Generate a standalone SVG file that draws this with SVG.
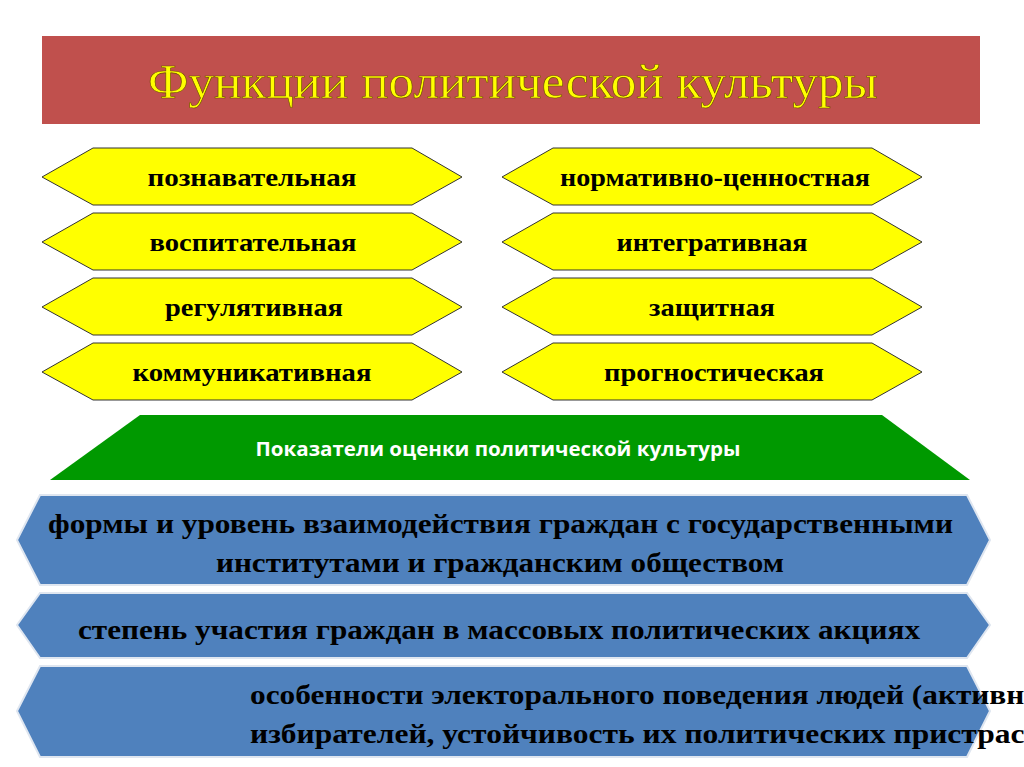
<svg xmlns="http://www.w3.org/2000/svg" width="1024" height="767" viewBox="0 0 1024 767">
<style>
.hex{fill:#ffff00;stroke:#333;stroke-width:1}
.ht{font-family:"Liberation Serif",serif;font-weight:bold;font-size:26px;text-anchor:middle;fill:#000}
.blue{fill:#4f81bd;stroke:#dfe6f0;stroke-width:2}
.bt{font-family:"Liberation Serif",serif;font-weight:bold;font-size:27px;fill:#000}
</style>
<rect width="1024" height="767" fill="#fff"/>
<g id="title"><rect x="42" y="36" width="938" height="88" fill="#c0504d"/>
<text x="513" y="98" font-family="Liberation Serif,serif" font-size="48" fill="#ffff00" stroke="#6b4a00" stroke-width="0.6" text-anchor="middle" textLength="730" lengthAdjust="spacingAndGlyphs">Функции политической культуры</text></g>
<g id="left">
<polygon class="hex" points="42,177 93,148 412,148 462,177 412,205 93,205"/><text class="ht" x="252" y="186" textLength="209" lengthAdjust="spacingAndGlyphs">познавательная</text>
<polygon class="hex" points="42,242 93,213 412,213 462,242 412,270 93,270"/><text class="ht" x="253" y="251" textLength="207" lengthAdjust="spacingAndGlyphs">воспитательная</text>
<polygon class="hex" points="42,307 93,278 412,278 462,307 412,335 93,335"/><text class="ht" x="254" y="316" textLength="178" lengthAdjust="spacingAndGlyphs">регулятивная</text>
<polygon class="hex" points="42,372 93,343 412,343 462,372 412,400 93,400"/><text class="ht" x="252" y="381" textLength="239" lengthAdjust="spacingAndGlyphs">коммуникативная</text>
</g>
<g id="right">
<polygon class="hex" points="502,177 553,148 872,148 922,177 872,205 553,205"/><text class="ht" x="715" y="186" textLength="310" lengthAdjust="spacingAndGlyphs">нормативно-ценностная</text>
<polygon class="hex" points="502,242 553,213 872,213 922,242 872,270 553,270"/><text class="ht" x="712" y="251" textLength="191" lengthAdjust="spacingAndGlyphs">интегративная</text>
<polygon class="hex" points="502,307 553,278 872,278 922,307 872,335 553,335"/><text class="ht" x="712" y="316" textLength="126" lengthAdjust="spacingAndGlyphs">защитная</text>
<polygon class="hex" points="502,372 553,343 872,343 922,372 872,400 553,400"/><text class="ht" x="714" y="381" textLength="220" lengthAdjust="spacingAndGlyphs">прогностическая</text>
</g>
<g id="green"><polygon points="140,415 882,415 970,480 50,480" fill="#009900"/>
<text x="498" y="456" font-family="Open Sans,sans-serif" font-weight="bold" font-size="19" fill="#fff" text-anchor="middle" textLength="485" lengthAdjust="spacingAndGlyphs">Показатели оценки политической культуры</text></g>
<g id="b1"><polygon class="blue" points="40,495 967,495 990,540 967,585 40,585 17,540"/>
<text class="bt" x="48" y="533" textLength="905" lengthAdjust="spacingAndGlyphs">формы и уровень взаимодействия граждан с государственными</text>
<text class="bt" x="216" y="572" textLength="568" lengthAdjust="spacingAndGlyphs">институтами и гражданским обществом</text></g>
<g id="b2"><polygon class="blue" points="40,593 967,593 990,625 967,658 40,658 17,625"/>
<text class="bt" x="78" y="639" textLength="842" lengthAdjust="spacingAndGlyphs">степень участия граждан в массовых политических акциях</text></g>
<g id="b3"><polygon class="blue" points="40,666 967,666 990,711 967,757 40,757 17,711"/>
<text class="bt" x="250" y="704" textLength="790" lengthAdjust="spacingAndGlyphs">особенности электорального поведения людей (активно</text>
<text class="bt" x="250" y="743" textLength="790" lengthAdjust="spacingAndGlyphs">избирателей, устойчивость их политических пристраст</text></g>
</svg>
